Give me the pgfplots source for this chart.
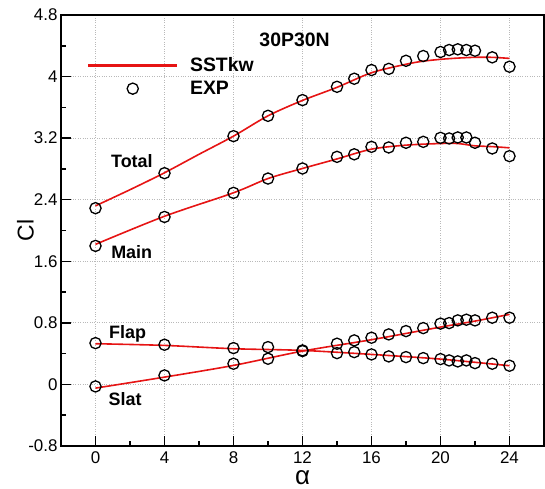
\documentclass[border=0pt]{standalone}
\usepackage{pgfplots}
\pgfplotsset{compat=1.18}
\usepackage{fontspec}
\setmainfont{Liberation Sans}
\definecolor{cfdred}{RGB}{230,20,20}
\pgfplotsset{
  longline/.style={legend image code/.code={\fill[cfdred] (0bp,-0.95bp) rectangle (87bp,0.95bp);}},
  midmark/.style={legend image code/.code={\draw[##1, mark repeat=2, mark phase=2] plot coordinates {(0bp,0bp) (43.5bp,0bp) (87bp,0bp)};}},
}
\begin{document}
\begin{tikzpicture}
\begin{axis}[
  name=ax,
  scale only axis,
  width=483bp, height=431bp,
  xmin=-2, xmax=26, ymin=-0.8, ymax=4.8,
  xtick={0,4,8,12,16,20,24},
  ytick={-0.8,0,0.8,1.6,2.4,3.2,4,4.8},
  yticklabels={-0.8,0,0.8,1.6,2.4,3.2,4,4.8},
  minor x tick num=1, minor y tick num=1,
  tick pos=left, tick align=inside,
  major tick length=10bp, minor tick length=5bp,
  every tick/.append style={black, line width=1.5bp},
  axis line style={line width=1.5bp},
  grid=major,
  grid style={dotted, gray!55, line width=1bp},
  /pgf/number format/assume math mode=true,
  tick label style={font=\fontsize{17}{17}\selectfont},
  xticklabel style={yshift=-2bp},
  xlabel={α},
  xlabel style={font=\fontsize{26}{26}\selectfont, at={(axis description cs:0.5,0)}, anchor=center, yshift=-32bp},
  ylabel={Cl},
  ylabel style={font=\fontsize{23}{23}\selectfont, at={(axis description cs:0,0.5)}, anchor=center, yshift=35.5bp},
  clip=false,
  legend cell align=left,
  legend style={at={(axis cs:-0.42,4.274)}, anchor=north west, draw=none, fill=none,
    inner sep=0pt, font=\fontsize{19.5}{19.5}\selectfont\bfseries,
    row sep=4bp,
    /tikz/every odd column/.append style={column sep=11bp}},
]
\addplot[cfdred, line width=1.6bp, smooth, longline]
  coordinates {(0,2.32) (2,2.53) (4,2.75) (6,2.99) (8,3.226) (10,3.49) (12,3.69) (14,3.86) (16,4.05) (18,4.16) (19,4.20) (20,4.224) (21,4.24) (22,4.25) (23,4.25) (24,4.236)};
\addlegendentry{SSTkw}
\addplot[only marks, mark=o, mark size=5.6bp, black, mark options={line width=1.3bp}, midmark]
  coordinates {(0,2.29) (4,2.745) (8,3.226) (10,3.49) (12,3.694) (14,3.867) (15,3.972) (16,4.085) (17,4.10) (18,4.205) (19,4.267) (20,4.319) (20.5,4.345) (21,4.354) (21.5,4.345) (22,4.336) (23,4.25) (24,4.128)};
\addlegendentry{EXP}
% Main
\addplot[cfdred, line width=1.6bp, smooth, forget plot]
  coordinates {(0,1.82) (4,2.185) (8,2.49) (10,2.675) (12,2.806) (14,2.93) (16,3.057) (18,3.109) (20,3.13) (21,3.13) (22,3.10) (23,3.09) (24,3.074)};
\addplot[only marks, mark=o, mark size=5.6bp, black, mark options={line width=1.3bp}, forget plot]
  coordinates {(0,1.80) (4,2.176) (8,2.489) (10,2.675) (12,2.806) (14,2.957) (15,2.99) (16,3.087) (17,3.079) (18,3.14) (19,3.152) (20,3.204) (20.5,3.196) (21,3.209) (21.5,3.209) (22,3.14) (23,3.066) (24,2.966)};
% Flap
\addplot[cfdred, line width=1.6bp, smooth, forget plot]
  coordinates {(0,0.529) (4,0.507) (8,0.464) (12,0.442) (16,0.39) (20,0.329) (24,0.243)};
\addplot[only marks, mark=o, mark size=5.6bp, black, mark options={line width=1.3bp}, forget plot]
  coordinates {(0,0.537) (4,0.516) (8,0.472) (10,0.485) (12,0.442) (14,0.407) (15,0.42) (16,0.39) (17,0.364) (18,0.355) (19,0.342) (20,0.329) (20.5,0.312) (21,0.299) (21.5,0.312) (22,0.277) (23,0.269) (24,0.243)};
% Slat
\addplot[cfdred, line width=1.6bp, smooth, forget plot]
  coordinates {(0,-0.048) (4,0.095) (8,0.247) (12,0.433) (16,0.581) (20,0.745) (22,0.823) (24,0.91)};
\addplot[only marks, mark=o, mark size=5.6bp, black, mark options={line width=1.3bp}, forget plot]
  coordinates {(0,-0.026) (4,0.117) (8,0.269) (10,0.334) (12,0.433) (14,0.529) (15,0.572) (16,0.607) (17,0.65) (18,0.693) (19,0.732) (20,0.79) (20.5,0.797) (21,0.832) (21.5,0.841) (22,0.832) (23,0.867) (24,0.867)};
\node[font=\fontsize{19.5}{19.5}\selectfont\bfseries, anchor=center] at (axis cs:11.54,4.481) {30P30N};
\node[font=\fontsize{18}{18}\selectfont\bfseries, anchor=center, text depth=0pt] at (axis cs:2.11,2.90) {Total};
\node[font=\fontsize{18}{18}\selectfont\bfseries, anchor=center, text depth=0pt] at (axis cs:2.10,1.72) {Main};
\node[font=\fontsize{18}{18}\selectfont\bfseries, anchor=center, text depth=0pt] at (axis cs:1.86,0.68) {Flap};
\node[font=\fontsize{18}{18}\selectfont\bfseries, anchor=center, text depth=0pt] at (axis cs:1.72,-0.186) {Slat};
\end{axis}
\path (ax.south west) ++(-61bp,-43bp);
\path (ax.north east) ++(1bp,15bp);
\end{tikzpicture}
\end{document}
